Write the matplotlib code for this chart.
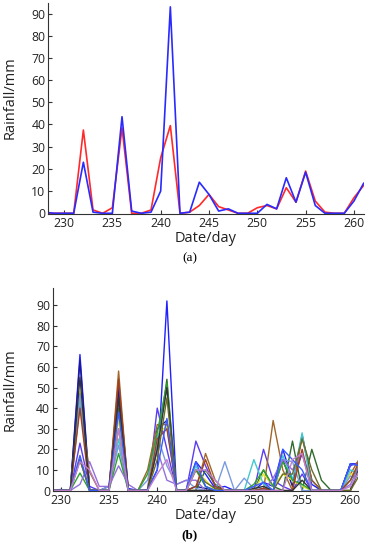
import matplotlib
matplotlib.use("Agg")
import matplotlib.pyplot as plt

plt.rcParams['font.family'] = ['Open Sans', 'DejaVu Sans']

# (a) observed vs. estimated daily rainfall
days_a = list(range(228, 262))
red_a = [0, 0, 0, 0, 37.5, 1.5, 0, 2.5, 38.5, 0, 0, 1.5, 25, 39.5, 0, 0.5, 3.5,
         8.5, 3, 1.5, 0, 0, 2.5, 3.5, 2, 11.5, 5, 19, 5.5, 0.5, 0, 0, 7, 12.5]
blue_a = [0.5, 0, 0, 0, 23, 0.5, 0, 0, 43.5, 1, 0, 0.5, 10, 93, 0, 0.5, 14,
          8.5, 1, 2, 0, 0, 0, 4, 2, 16, 5, 18.5, 3.5, 0, 0, 0, 5.5, 13.5]

# (b) ensemble members
days_b = list(range(229, 262))
members_b = [
    ('#2020ff', [0, 0.5, 0, 66, 0.5, 0, 0, 52, 1, 0, 0.5, 10, 92, 0, 0.5, 14, 8, 1, 2, 0, 0, 0, 4, 2, 20, 5, 18, 3, 0, 0, 0, 13, 13]),
    ('#1a1a8c', [0, 0, 0, 63, 0, 0, 2, 48, 0, 0, 0, 30, 34, 0, 0, 2, 1, 0, 0, 0, 0, 0, 1, 0, 15, 2, 27, 5, 0, 0, 0, 13, 12]),
    ('#5b3cf0', [0, 0, 0, 23, 2, 0, 0, 44, 0, 0, 0, 40, 20, 0, 0, 24, 12, 2, 0, 0, 0, 0, 20, 5, 2, 0, 8, 0, 0, 0, 0, 12, 14]),
    ('#a0662a', [0, 0, 0, 42, 9, 0, 0, 58, 0, 0, 10, 32, 32, 0, 0, 0, 18, 5, 0, 0, 0, 0, 0, 34, 10, 0, 26, 5, 0, 0, 0, 8, 16]),
    ('#2f6b2f', [0, 0, 0, 15, 0, 0, 0, 40, 0, 0, 0, 20, 54, 0, 0, 0, 10, 3, 0, 0, 0, 0, 10, 2, 0, 24, 0, 20, 5, 0, 0, 0, 11]),
    ('#e0e030', [0, 0, 0, 48, 0, 0, 0, 35, 0, 0, 0, 28, 31, 0, 0, 10, 5, 0, 0, 0, 0, 0, 8, 2, 8, 5, 2, 0, 0, 0, 0, 8, 9]),
    ('#40c8d0', [0, 0, 0, 45, 0, 0, 0, 25, 0, 0, 0, 22, 50, 0, 0, 12, 2, 0, 0, 0, 0, 15, 3, 0, 17, 5, 28, 0, 0, 0, 0, 10, 8]),
    ('#7b9be0', [0, 0, 0, 47, 0, 0, 2, 22, 0, 0, 5, 27, 12, 3, 5, 1, 0, 0, 14, 0, 6, 1, 0, 0, 15, 14, 0, 0, 0, 0, 0, 7, 6]),
    ('#30a030', [0, 0, 0, 8.5, 0, 0, 0, 18, 0, 0, 8, 28, 52, 0, 0, 10, 2, 0, 0, 0, 0, 3, 10, 2, 14, 5, 3, 0, 0, 0, 0, 5, 13]),
    ('#9370db', [0, 0, 0, 3, 14, 2, 2, 12, 3, 0, 0, 20, 5, 3, 5, 5, 0, 0, 0, 0, 0, 0, 0, 6, 15, 10, 18, 0, 0, 0, 0, 3, 13]),
    ('#a04020', [0, 0, 0, 40, 0, 0, 0, 54, 0, 0, 0, 25, 30, 0, 0, 2, 15, 2, 0, 0, 0, 0, 1, 0, 0, 0, 20, 0, 0, 0, 0, 5, 15]),
    ('#333333', [0, 0, 0, 55, 0, 0, 0, 45, 0, 0, 0, 20, 50, 0, 0, 0, 0, 0, 0, 0, 0, 1, 2, 0, 0, 0, 5, 0, 0, 0, 0, 0, 12]),
    ('#6b6b2a', [0, 0, 0, 15, 0, 0, 0, 30, 0, 0, 0, 15, 45, 0, 0, 10, 4, 1, 0, 0, 0, 0, 0, 0, 8, 8, 25, 10, 0, 0, 0, 0, 8]),
    ('#3a5cff', [0, 0, 0, 17, 0, 0, 0, 38, 0, 0, 0, 10, 35, 0, 0, 14, 2, 0, 0, 0, 0, 2, 4, 0, 20, 15, 10, 0, 0, 0, 0, 13, 12]),
    ('#c080d0', [0, 0, 0, 14, 10, 0, 0, 30, 0, 0, 0, 8, 15, 0, 0, 10, 10, 5, 0, 0, 0, 0, 0, 0, 0, 15, 18, 0, 0, 0, 0, 2, 10]),
]

xticks = [230, 235, 240, 245, 250, 255, 260]
yticks = [0, 10, 20, 30, 40, 50, 60, 70, 80, 90]

fig = plt.figure(figsize=(3.7, 5.5), dpi=100)
ax1 = fig.add_axes([0.130, 0.611, 0.854, 0.383])
ax2 = fig.add_axes([0.143, 0.107, 0.825, 0.369])

ax1.plot(days_a, red_a, color='#ff2a2a', lw=1.2)
ax1.plot(days_a, blue_a, color='#2a2aff', lw=1.2)
ax1.set_xlim(228.35, 261.05)
ax1.set_ylim(-0.3, 94.6)

for col, vals in members_b:
    ax2.plot(days_b, vals, color=col, lw=1.0)
ax2.set_xlim(229.2, 260.8)
ax2.set_ylim(-0.3, 98.2)

for ax in (ax1, ax2):
    ax.set_xticks(xticks)
    ax.set_yticks(yticks)
    ax.spines['top'].set_visible(False)
    ax.spines['right'].set_visible(False)
    ax.spines['left'].set_color('#333333')
    ax.spines['bottom'].set_color('#333333')
    ax.tick_params(direction='in', length=3, width=0.8, labelsize=8.8,
                   colors='#333333', labelcolor='#222222', pad=2)
    ax.set_xlabel('Date/day', fontsize=10.5, color='#222222', labelpad=1)
    ax.set_ylabel('Rainfall/mm', fontsize=10.5, color='#222222')

ax1.yaxis.set_label_coords(-0.095, 0.55)
ax2.yaxis.set_label_coords(-0.115, 0.5)

fig.text(0.513, 0.531, '(a)', ha='center', va='center', fontsize=9.5,
         family='Liberation Serif')
fig.text(0.513, 0.027, '(b)', ha='center', va='center', fontsize=9.5,
         family='Liberation Serif', fontweight='bold')

fig.savefig('out.png', dpi=100)
